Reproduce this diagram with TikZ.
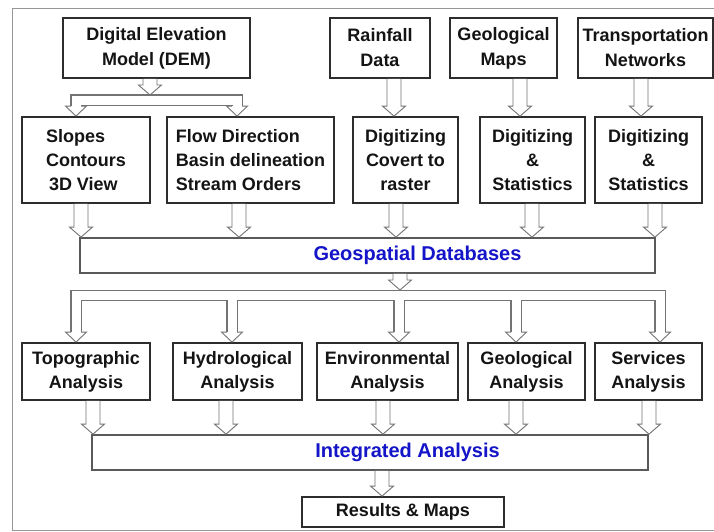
\documentclass[tikz,border=0pt]{standalone}
\usepackage{fontspec}
\setmainfont{Liberation Sans}
\usetikzlibrary{calc}
\definecolor{agray}{RGB}{115,115,115}
\definecolor{bdark}{RGB}{45,45,45}
\definecolor{tblue}{RGB}{20,20,200}
\definecolor{fgray}{RGB}{150,150,150}
\begin{document}
\begin{tikzpicture}[x=1pt,y=-1pt,
  box/.style={draw=bdark, line width=1.8pt, fill=white, inner sep=1pt, align=center,
    text=black!92, font=\bfseries\fontsize{18}{24}\selectfont},
  topbox/.style={box, font=\bfseries\fontsize{18}{25}\selectfont, minimum height=60pt},
  midbox/.style={box, minimum height=86pt},
  anbox/.style={box, minimum height=57pt},
  barbox/.style={box, draw=black!65, minimum height=35pt},
  bluetext/.style={text=tblue, font=\bfseries\fontsize{20}{24}\selectfont, inner sep=0pt},
  harrow/.style={draw=agray, line width=0.9pt, fill=white, line join=miter,
    to path={let \p1=(\tikztostart), \p2=(\tikztotarget) in
      (\x1-7pt,\y1) -- (\x1-7pt,\y2+10pt) -- (\x1-11.5pt,\y2+10pt) -- (\x1,\y2)
      -- (\x1+11.5pt,\y2+10pt) -- (\x1+7pt,\y2+10pt) -- (\x1+7pt,\y1)}},
  dbl/.style={draw=white, line width=9pt, line join=miter,
    preaction={draw=agray, line width=11.4pt, line join=miter}},
  ahead/.pic={
    \fill[white] (-10.5pt,10pt) -- (0pt,0pt) -- (10.5pt,10pt) -- cycle;
    \draw[agray, line width=0.9pt, line join=miter]
      (-5pt,10pt) -- (-10.5pt,10pt) -- (0pt,0pt) -- (10.5pt,10pt) -- (5pt,10pt);}
]
\useasboundingbox (0,0) rectangle (714,531);
\fill[white] (0,0) rectangle (714,531);
\draw[fgray, line width=1pt] (716,8) -- (12,8) -- (12,530) -- (716,530);

% top row
\node[topbox, minimum width=187pt] (dem) at (156.5,48) {Digital Elevation\\Model (DEM)};
\node[topbox, minimum width=100pt] (rain) at (380,48) {Rainfall\\Data};
\node[topbox, minimum width=107pt] (gmaps) at (503.5,48) {Geological\\Maps};
\node[topbox, minimum width=135pt] (trans) at (645.5,48) {Transportation\\Networks};

% second row
\node[midbox, minimum width=128pt, align=left] (slopes) at (86,160) {Slopes\\Contours\\\hspace*{3pt}3D View};
\node[midbox, minimum width=167pt, align=left] (flow) at (250.5,160) {Flow Direction\\Basin delineation\\Stream Orders};
\node[midbox, minimum width=105pt] (dig1) at (405.5,160) {Digitizing\\Covert to\\raster};
\node[midbox, minimum width=105pt] (dig2) at (532.5,160) {Digitizing\\\&\\Statistics};
\node[midbox, minimum width=107pt] (dig3) at (648.5,160) {Digitizing\\\&\\Statistics};

% geospatial
\node[barbox, minimum width=575pt] (geo) at (367.5,255.5) {};
\node[bluetext] (geotext) at (417.5,255.5) {Geospatial Databases};

% analysis row
\node[anbox, minimum width=128pt] (topo) at (86,371.5) {Topographic\\Analysis};
\node[anbox, minimum width=129pt] (hydro) at (237.5,371.5) {Hydrological\\Analysis};
\node[anbox, minimum width=141pt] (env) at (387.5,371.5) {Environmental\\Analysis};
\node[anbox, minimum width=117pt] (geol) at (526.5,371.5) {Geological\\Analysis};
\node[anbox, minimum width=107pt] (serv) at (648.5,371.5) {Services\\Analysis};

% integrated
\node[barbox, minimum width=556pt] (integ) at (370,452.5) {};
\node[bluetext] (integtext) at (407.5,452.5) {Integrated Analysis};

% results
\node[box, minimum width=202pt, minimum height=30pt] (res) at (403,512) {Results \& Maps};

% DEM tree
\coordinate (barA) at (150,100);
\coordinate (barAtop) at (150,95);
\draw[dbl] ([xshift=-10pt,yshift=10pt]slopes.north) |- (barA) -| ([xshift=-13.5pt,yshift=10pt]flow.north);
\pic at ([xshift=-10pt]slopes.north) {ahead};
\pic at ([xshift=-13.5pt]flow.north) {ahead};
\draw[harrow] ([xshift=-6.5pt]dem.south) to (barAtop);

% top row to second row
\draw[harrow] ([xshift=14pt]rain.south) to (dig1.north);
\draw[harrow] ([xshift=16.5pt]gmaps.south) to (dig2.north);
\draw[harrow] ([xshift=-4.5pt]trans.south) to (dig3.north);

% second row to geospatial
\draw[harrow] ([xshift=-5pt]slopes.south) to (geo.north);
\draw[harrow] ([xshift=-11.5pt]flow.south) to (geo.north);
\draw[harrow] ([xshift=-9.5pt]dig1.south) to (geo.north);
\draw[harrow] ([xshift=-0.5pt]dig2.south) to (geo.north);
\draw[harrow] ([xshift=6.5pt]dig3.south) to (geo.north);

% geospatial tree
\coordinate (barB) at (400,295.5);
\coordinate (barBtop) at (400,290);
\draw[dbl] ([xshift=-10pt,yshift=10pt]topo.north) |- (barB) -| ([xshift=11.5pt,yshift=10pt]serv.north)
  ([xshift=-5.5pt]hydro.north |- barB) -- ([xshift=-5.5pt,yshift=10pt]hydro.north)
  ([xshift=11.5pt]env.north |- barB) -- ([xshift=11.5pt,yshift=10pt]env.north)
  ([xshift=-10.5pt]geol.north |- barB) -- ([xshift=-10.5pt,yshift=10pt]geol.north);
\pic at ([xshift=-10pt]topo.north) {ahead};
\pic at ([xshift=-5.5pt]hydro.north) {ahead};
\pic at ([xshift=11.5pt]env.north) {ahead};
\pic at ([xshift=-10.5pt]geol.north) {ahead};
\pic at ([xshift=11.5pt]serv.north) {ahead};
\draw[harrow] ([xshift=32.5pt]geo.south) to (barBtop);

% analysis to integrated
\draw[harrow] ([xshift=7pt]topo.south) to (integ.north);
\draw[harrow] ([xshift=-11.5pt]hydro.south) to (integ.north);
\draw[harrow] ([xshift=-4.5pt]env.south) to (integ.north);
\draw[harrow] ([xshift=-10.5pt]geol.south) to (integ.north);
\draw[harrow] ([xshift=0.5pt]serv.south) to (integ.north);

% integrated to results
\draw[harrow] ([xshift=12pt]integ.south) to (res.north);
\end{tikzpicture}
\end{document}
